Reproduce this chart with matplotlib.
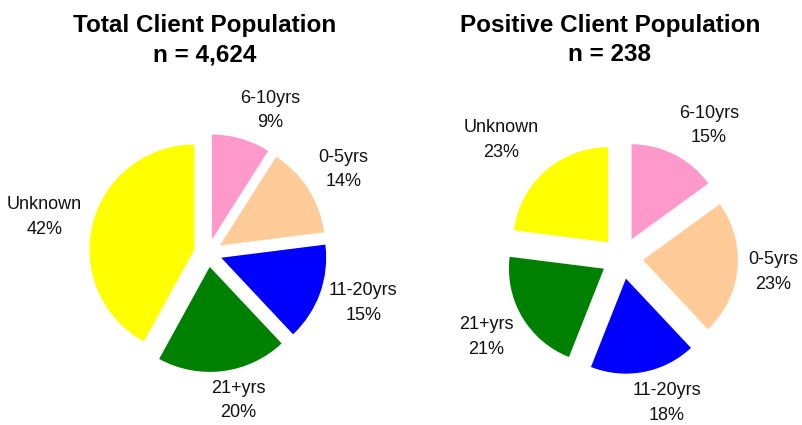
import matplotlib
matplotlib.use("Agg")
import matplotlib.pyplot as plt
import numpy as np

plt.rcParams['font.family'] = ['Liberation Sans', 'DejaVu Sans']

categories = ["6-10yrs", "0-5yrs", "11-20yrs", "21+yrs", "Unknown"]
colors = ["#FF99CC", "#FFCC99", "#0000FF", "#008000", "#FFFF00"]

total_values = [9, 14, 15, 20, 42]
positive_values = [15, 23, 18, 21, 23]

total_title = "Total Client Population\nn = 4,624"
positive_title = "Positive Client Population\nn = 238"

# label placement (style): distance factor and angle shift (deg) per slice
total_label_dist = [1.35, 1.38, 1.42, 1.30, 1.46]
total_label_shift = [-8.0, -0.9, 2.1, 4.8, 2.1]
positive_label_dist = [1.45, 1.38, 1.38, 1.43, 1.56]
positive_label_shift = [-7.1, 0.1, 7.5, -0.5, 4.9]

W, H = 802, 425
fig = plt.figure(figsize=(W / 100, H / 100), dpi=100)
ax = fig.add_axes([0, 0, 1, 1])


def draw_pie(values, center, radius, explode, ldist, lshift, title, title_x):
    wedges, _ = ax.pie(values, colors=colors, startangle=90, counterclock=False,
                       explode=[explode] * len(values), center=center, radius=radius,
                       wedgeprops=dict(linewidth=0), frame=True)
    for w, cat, v, dfac, sh in zip(wedges, categories, values, ldist, lshift):
        thetam = np.deg2rad((w.theta1 + w.theta2) / 2 + sh)
        cx, cy = w.center
        x = cx + dfac * radius * np.cos(thetam)
        y = cy + dfac * radius * np.sin(thetam)
        ax.text(x, y, f"{cat}\n{v}%", ha="center", va="center", fontsize=13,
                linespacing=1.57, color="#111111")
    ax.text(title_x, H - 40, title, ha="center", va="center", fontsize=17.5,
            fontweight="bold", linespacing=1.35)


draw_pie(total_values, (208, H - 253), 105, 14, total_label_dist,
         total_label_shift, total_title, 205)
draw_pie(positive_values, (622, H - 258), 95, 21, positive_label_dist,
         positive_label_shift, positive_title, 610)

ax.set_xlim(0, W)
ax.set_ylim(0, H)
ax.set_aspect("equal")
ax.axis("off")

fig.savefig("out.png", dpi=100)
